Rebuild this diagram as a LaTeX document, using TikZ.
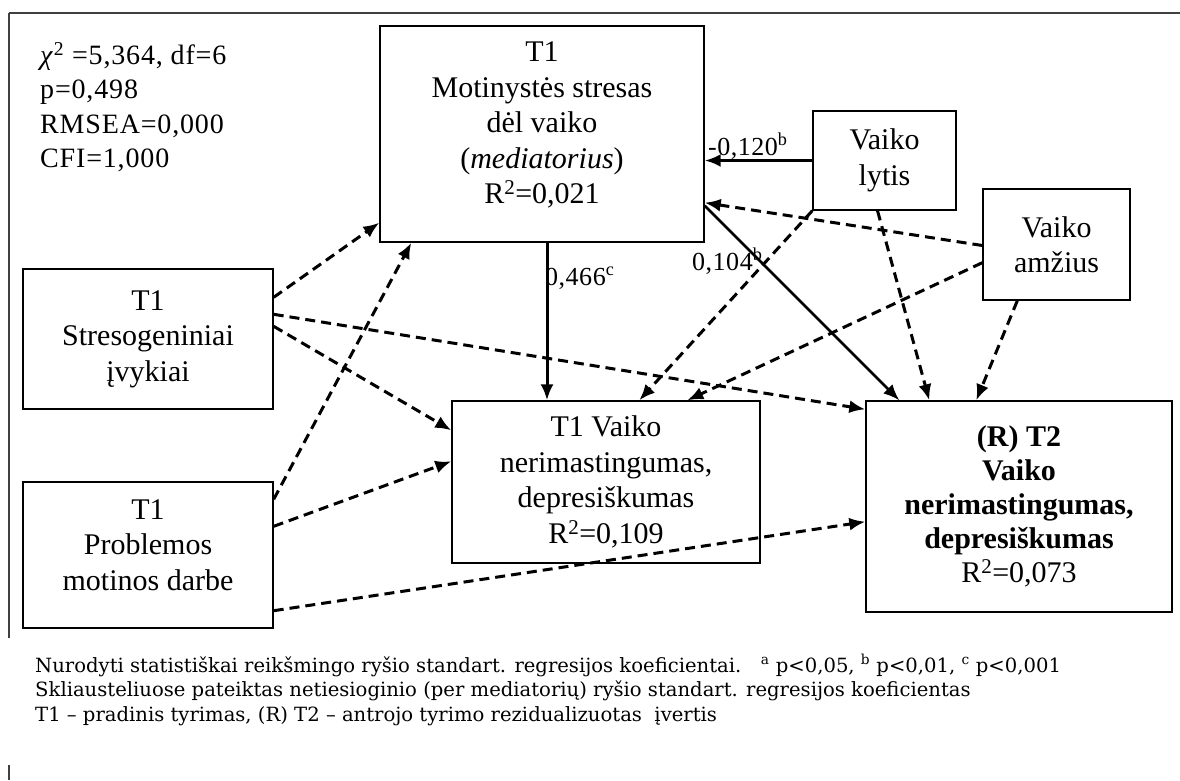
\documentclass[tikz,border=0pt]{standalone}
\usepackage{fontspec}
\setmainfont{Liberation Serif}
\newfontfamily\notefont{DejaVu Serif}
\usetikzlibrary{arrows.meta,calc}

\begin{document}
\begin{tikzpicture}[x=1pt,y=-1pt,
  box/.style={draw, line width=1.4pt, inner sep=0pt, align=center,
    font=\fontsize{30}{35.5}\selectfont},
  % extra depth under the last line lifts the text block inside a box
  lift/.style={execute at end node={\rule[-#1]{0pt}{#1}}},
  coef/.style={inner sep=0pt, anchor=base west,
    font=\fontsize{26}{30}\selectfont\addfontfeatures{LetterSpace=2}},
  frame/.style={draw=black!75, line width=2pt},
  sig/.style={line width=3pt, -{Latex[length=16pt,width=13pt]}},
  nonsig/.style={line width=3pt, dash pattern=on 10pt off 6pt,
    -{Latex[length=16pt,width=13pt]}}
]
\useasboundingbox (0,0) rectangle (1180,780);

% outer frame
\draw[frame] (9,13) -- (1180,13);
\draw[frame] (9,13) -- (9,638);
\draw[frame] (9,765) -- (9,780);

% fit indices
\node[inner sep=0pt, anchor=north west, align=left,
  font=\fontsize{28}{34.5}\selectfont\addfontfeatures{LetterSpace=3}] (fitidx) at (40,42)
  {\textit{χ}\textsuperscript{2} =5,364, df=6\\p=0,498\\RMSEA=0,000\\CFI=1,000};

% variables
\node[box, lift=22pt, minimum width=324pt, minimum height=216pt] (M) at (542,134)
  {T1\\Motinystės stresas\\dėl vaiko\\(\textit{mediatorius})\\R\textsuperscript{2}=0,021};
\node[box, minimum width=143pt, minimum height=99pt] (L) at (884.5,160.5)
  {Vaiko\\lytis};
\node[box, minimum width=147pt, minimum height=111pt] (A) at (1056.5,244.5)
  {Vaiko\\amžius};
\node[box, minimum width=250pt, minimum height=140pt] (S) at (148,339)
  {T1\\Stresogeniniai\\įvykiai};
\node[box, lift=20pt, minimum width=250pt, minimum height=146pt] (P) at (148,555)
  {T1\\Problemos\\motinos darbe};
\node[box, minimum width=308pt, minimum height=162pt] (N) at (606,482)
  {T1 Vaiko\\nerimastingumas,\\depresiškumas\\R\textsuperscript{2}=0,109};
\node[box, font=\fontsize{30}{34}\selectfont, minimum width=306pt, minimum height=211pt] (R) at (1019,506.5)
  {\textbf{(R) T2}\\\textbf{Vaiko}\\\textbf{nerimastingumas,}\\\textbf{depresiškumas}\\R\textsuperscript{2}=0,073};

% path coefficients
\node[coef] (cLM) at (708,155) {-0,120\textsuperscript{b}};
\node[coef] (cMN) at (545,285) {0,466\textsuperscript{c}};
\node[coef] (cMR) at (692,270) {0,104\textsuperscript{b}};

% significant paths
\draw[sig, line width=3.5pt] (L.west) -- (L.west -| M.east);
\draw[sig] ([xshift=5pt]M.south) -- ([xshift=5pt]M.south |- N.north);
\draw[sig, line width=2.5pt] ([yshift=37pt]M.south east) -- ([xshift=34pt]R.north west);

% non-significant paths
\draw[nonsig] (L.south west) -- ([xshift=188pt]N.north west);
\draw[nonsig] ([yshift=-1pt]A.west) -- ([yshift=40pt]M.south east);
\draw[nonsig] ([yshift=38pt]A.south west) -- ([xshift=236pt]N.north west);
\draw[nonsig] ([xshift=-7pt]L.south) -- ([xshift=64pt]R.north west);
\draw[nonsig] ([xshift=35pt]A.south west) -- ([xshift=111pt]R.north west);
\draw[nonsig] ([yshift=-29pt]S.north east) -- ([yshift=20pt]M.south west);
\draw[nonsig] ([yshift=-46pt]S.north east) -- ([yshift=-9pt]R.north west);
\draw[nonsig] ([yshift=-58pt]S.north east) -- ([yshift=-30pt]N.north west);
\draw[nonsig] ([yshift=-18pt]P.north east) -- ([xshift=32pt]M.south west);
\draw[nonsig] ([yshift=-45pt]P.north east) -- ([yshift=-61pt]N.north west);
\draw[nonsig] ([yshift=18pt]P.south east) -- ([yshift=91pt]R.south west);

% notes
\node[inner sep=0pt, anchor=north west, align=left,
  font=\notefont\fontsize{19.6}{24.5}\selectfont] (notes) at (35,654)
  {Nurodyti statistiškai reikšmingo ryšio standart. regresijos koeficientai.\quad \textsuperscript{a} p<0,05, \textsuperscript{b} p<0,01, \textsuperscript{c} p<0,001\\
   Skliausteliuose pateiktas netiesioginio (per mediatorių) ryšio standart. regresijos koeficientas\\
   T1 – pradinis tyrimas, (R) T2 – antrojo tyrimo rezidualizuotas\ \ įvertis};
\end{tikzpicture}
\end{document}
